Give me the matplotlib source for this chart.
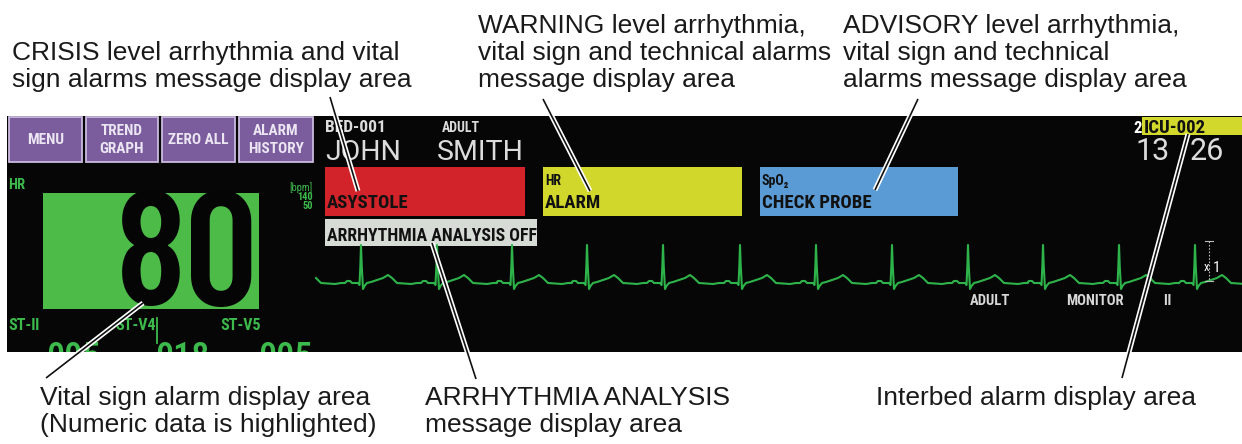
import matplotlib
matplotlib.use("Agg")
import matplotlib.pyplot as plt
import matplotlib.patheffects as pe
from matplotlib.patches import Rectangle
import numpy as np

# ---------------- data ----------------
W, H = 1242, 444

buttons = [("MENU", 9, 82), ("TREND\nGRAPH", 86, 158), ("ZERO ALL", 162, 235), ("ALARM\nHISTORY", 239, 313)]

alarm_boxes = [  # (x0, x1, colour, small label, message)
    (325, 525, "#d2232a", "", "ASYSTOLE"),
    (543, 742, "#d2d72c", "HR", "ALARM"),
    (760, 958, "#5b9bd5", "SpO₂", "CHECK PROBE"),
]
arrhythmia_msg = "ARRHYTHMIA ANALYSIS OFF"
hr_value = "80"
hr_unit = "[bpm]"
hr_limits = ["140", "50"]
st_labels = [("ST-Ⅱ", 8), ("ST-V4", 115), ("ST-V5", 220)]
st_values = [("005", 73), ("018", 182), ("005", 285)]
ecg_labels = [("ADULT", 970), ("MONITOR", 1066), ("Ⅱ", 1163)]
patient = [("JOHN", 325), ("SMITH", 437)]
clock = [("13", 1135), ("26", 1190)]

# one ECG beat (offset from R peak, px ; height above baseline, px)
beat_dx = [-16, -14, -11, -9, -3, -1.5, -0.6, 0, 0.7, 2, 3.5, 6, 10, 16, 22, 27, 31, 36, 50, 56, 59.5]
beat_dy = [0, 2, 2, 0, 0, -2, 18, 38, 18, -6, -3, 0, 1, 3, 5, 8, 5, 0, -1, 0, 0]
beat_x = [285, 361, 437, 512, 587, 663, 740, 816, 892, 968, 1043, 1119, 1195, 1271]

top_notes = [
    (12, ["CRISIS level arrhythmia and vital", "sign alarms message display area"], 60),
    (478, ["WARNING level arrhythmia,", "vital sign and technical alarms", "message display area"], 33),
    (843, ["ADVISORY level arrhythmia,", "vital sign and technical", "alarms message display area"], 33),
]
bottom_notes = [
    (40, ["Vital sign alarm display area", "(Numeric data is highlighted)"]),
    (425, ["ARRHYTHMIA ANALYSIS", "message display area"]),
    (876, ["Interbed alarm display area"]),
]
leaders = [((330, 97), (358, 191)), ((543, 99), (590, 191)), ((918, 99), (875, 190)),
           ((143, 303), (46, 378)), ((432, 243), (476, 379)), ((1188, 134), (1122, 378))]

# ---------------- drawing ----------------
COND = ["Roboto Condensed", "DejaVu Sans"]
BIG = ["Barlow Condensed", "Roboto Condensed", "DejaVu Sans"]
LIGHT = ["Roboto", "DejaVu Sans"]
ANN = ["Liberation Sans", "DejaVu Sans"]
GREEN = "#3dba4c"
GREY = "#dcdcdc"
SCREEN_TOP, SCREEN_BOTTOM = 116, 352

fig = plt.figure(figsize=(W / 100, H / 100), dpi=100)
fig.patch.set_facecolor("white")
ax = fig.add_axes([0, 0, 1, 1])
ax.set_xlim(0, W)
ax.set_ylim(H, 0)
ax.axis("off")

screen = Rectangle((7, SCREEN_TOP), W + 10 - 7, SCREEN_BOTTOM - SCREEN_TOP,
                   facecolor="#060606", edgecolor="none", zorder=1)
ax.add_patch(screen)

def txt(x, y, s, size, color, fam=COND, weight="bold", ha="left", va="baseline", z=5, **kw):
    return ax.text(x, y, s, fontsize=size, color=color, family=fam, fontweight=weight,
                   ha=ha, va=va, zorder=z, **kw)

# menu buttons
for label, x0, x1 in buttons:
    ax.add_patch(Rectangle((x0, 117), x1 - x0, 45, facecolor="#7b5d9e", edgecolor="#c9bbdf", lw=1.3, zorder=2))
    lines = label.split("\n")
    if len(lines) == 1:
        txt((x0 + x1) / 2, 140, lines[0], 11, "#ece6f3", ha="center", va="center")
    else:
        txt((x0 + x1) / 2, 131, lines[0], 11, "#ece6f3", ha="center", va="center")
        txt((x0 + x1) / 2, 149, lines[1], 11, "#ece6f3", ha="center", va="center")

# HR numeric area
txt(8, 189, "HR", 10.5, GREEN)
txt(313, 191, hr_unit, 7.5, GREEN, weight="normal", ha="right")
txt(313, 200, hr_limits[0], 7.5, GREEN, ha="right")
txt(313, 209, hr_limits[1], 7.5, GREEN, ha="right")
ax.add_patch(Rectangle((43, 193), 216, 116, facecolor="#4cbb48", edgecolor="none", zorder=2))
txt(187, 305, hr_value, 116, "#050505", fam=BIG, weight="semibold", ha="center")

# ST values (lower half hidden below the screen edge)
for s, x in st_labels:
    txt(x, 330, s, 11.5, GREEN)
for s, x in st_values:
    txt(x, 368, s, 26, GREEN, weight="medium", ha="center", z=4)
ax.add_patch(Rectangle((0, SCREEN_BOTTOM), W, H - SCREEN_BOTTOM, facecolor="white", edgecolor="none", zorder=4.5))
ax.plot([157, 157], [318, 343], color=GREEN, lw=1.3, zorder=3)

# patient header
txt(325, 132, "BED-001", 12.5, GREY)
txt(442, 132, "ADULT", 10, GREY)
for s, x in patient:
    txt(x, 160, s, 20.5, GREY, fam=LIGHT, weight="normal")

# alarm message boxes
for x0, x1, col, small, msg in alarm_boxes:
    ax.add_patch(Rectangle((x0, 167), x1 - x0, 49, facecolor=col, edgecolor="none", zorder=2))
    if small:
        txt(x0 + 2, 185, small, 10, "#111111")
    txt(x0 + 2, 208, msg, 13.5, "#111111")
ax.add_patch(Rectangle((325, 219), 212, 27, facecolor="#d6dbd6", edgecolor="none", zorder=2))
txt(327, 241, arrhythmia_msg, 12.8, "#111111")

# interbed + clock
txt(1133, 133, "2", 12, "white")
ax.add_patch(Rectangle((1142, 117), 110, 18, facecolor="#d3d82c", edgecolor="none", zorder=2))
txt(1144, 133, "ICU-002", 13.5, "#111111")
for s, x in clock:
    txt(x, 160, s, 22, GREY, fam=LIGHT, weight="normal")

# ECG trace
base = 283
ex, ey = [], []
for b in beat_x:
    for dx, dy in zip(beat_dx, beat_dy):
        if b + dx >= 315:
            ex.append(b + dx)
            ey.append(base - dy)
line, = ax.plot(ex, ey, color="#2eb34a", lw=1.5, zorder=3, solid_joinstyle="round")
line.set_clip_path(screen)

# scale marker
ax.plot([1209, 1209], [241, 281], color="#bbbbbb", lw=0.8, ls=(0, (1.5, 1.5)), zorder=3)
ax.plot([1205, 1213], [241, 241], color="#bbbbbb", lw=0.8, zorder=3)
ax.plot([1205, 1213], [281, 281], color="#bbbbbb", lw=0.8, zorder=3)
txt(1204, 271, "x", 9, "white", weight="normal")
txt(1213, 272, "1", 11, "white", weight="normal")

for s, x in ecg_labels:
    txt(x, 305, s, 10.5, "#d8d8d8")

# annotations
for x, lines, y0 in top_notes:
    for i, s in enumerate(lines):
        ax.text(x, y0 + 27 * i, s, fontsize=19, family=ANN, color="#1a1a1a", va="baseline", zorder=6)
for x, lines in bottom_notes:
    for i, s in enumerate(lines):
        ax.text(x, 405 + 27 * i, s, fontsize=19, family=ANN, color="#1a1a1a", va="baseline", zorder=6)

for (x0, y0), (x1, y1) in leaders:
    ax.plot([x0, x1], [y0, y1], color="#111111", lw=1.2, zorder=8, solid_capstyle="butt",
            path_effects=[pe.Stroke(linewidth=3.6, foreground="white"), pe.Normal()])

fig.savefig("out.png", dpi=100, facecolor="white")
